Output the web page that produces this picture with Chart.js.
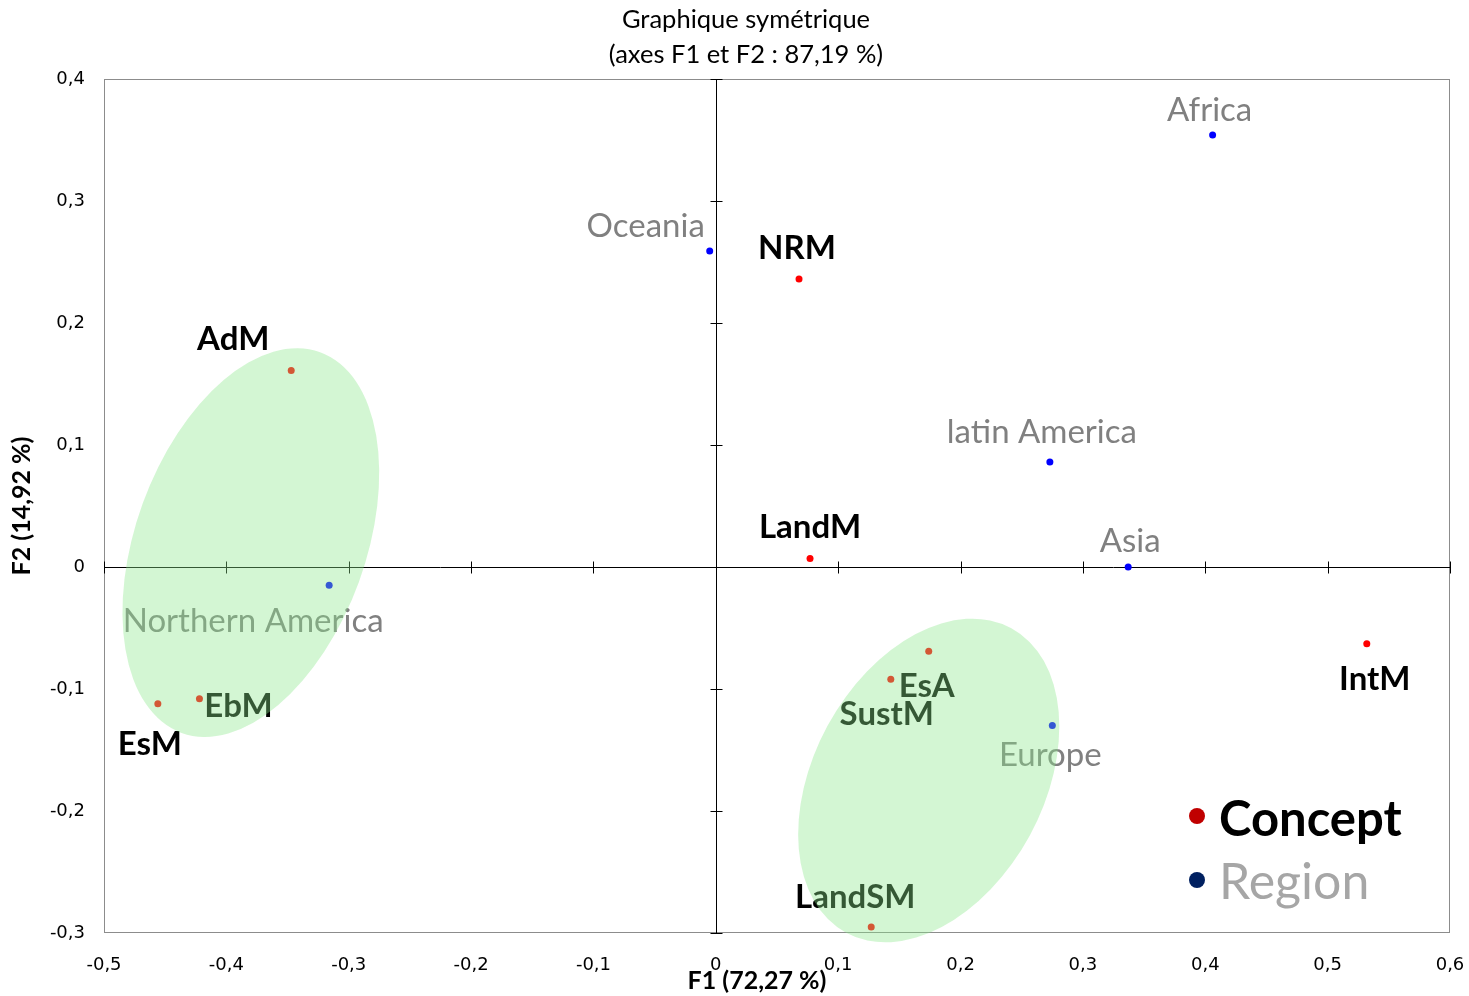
<!DOCTYPE html>
<html>
<head>
<meta charset="utf-8">
<script src="https://cdn.jsdelivr.net/npm/chart.js@4.4.1/dist/chart.umd.min.js"></script>
<style>
  html, body { margin: 0; padding: 0; background: #fff; }
  canvas { display: block; }
</style>
</head>
<body>
<canvas id="afc" width="1469" height="996"></canvas>
<script>
// coordonnées des modalités (F1, F2)
const conceptNames = ['NRM', 'AdM', 'LandM', 'IntM', 'EsA', 'SustM', 'EbM', 'EsM', 'LandSM'];
const conceptF1 = [0.068, -0.347, 0.077, 0.532, 0.174, 0.143, -0.422, -0.456, 0.127];
const conceptF2 = [0.236, 0.161, 0.007, -0.063, -0.069, -0.092, -0.108, -0.112, -0.295];

const regionNames = ['Africa', 'Oceania', 'latin America', 'Asia', 'Northern America', 'Europe'];
const regionF1 = [0.406, -0.005, 0.273, 0.337, -0.316, 0.275];
const regionF2 = [0.354, 0.259, 0.086, 0.000, -0.015, -0.130];

const xTicks = [-0.5, -0.4, -0.3, -0.2, -0.1, 0, 0.1, 0.2, 0.3, 0.4, 0.5, 0.6];
const yTicks = [-0.3, -0.2, -0.1, 0, 0.1, 0.2, 0.3, 0.4];

// decalage des etiquettes (px) par rapport au point
const conceptLabelShift = [[-2, -31], [-58, -31], [0, -31], [8, 35], [-2, 35], [-4, 35], [39, 8], [-8, 41], [-16, -30]];
const regionLabelShift = [[-3, -25], [-64, -25], [-8, -30], [2, -26], [-76, 36], [-2, 30]];

// groupes entoures (centre en unites des axes, rayons en unites, rotation en degres)
const groups = [
    { cx: -0.380, cy: 0.020, rx: 0.094, ry: 0.166, rot: 20 },
    { cx: 0.174, cy: -0.175, rx: 0.094, ry: 0.142, rot: 28.5 }
];

function fmt(v) {
    let r = Math.round(v * 10) / 10;
    if (r === 0) return '0';
    return r.toFixed(1).replace('.', ',');
}

const toPoints = (xs, ys) => xs.map((x, i) => ({ x: x, y: ys[i] }));

const frame_plugin = {
    id: 'frame',
    beforeDatasetsDraw(chart) {
        const ctx = chart.ctx;
        const a = chart.chartArea;
        const xs = chart.scales.x, ys = chart.scales.y;
        ctx.save();
        ctx.strokeStyle = '#8c8c8c';
        ctx.lineWidth = 1;
        ctx.strokeRect(a.left + 0.5, a.top + 0.5, a.right - a.left - 1, a.bottom - a.top - 1);

        let x0 = Math.round(xs.getPixelForValue(0)) + 0.5;
        let y0 = Math.round(ys.getPixelForValue(0)) + 0.5;
        ctx.strokeStyle = '#000';
        ctx.beginPath();
        ctx.moveTo(a.left, y0); ctx.lineTo(a.right, y0);
        ctx.moveTo(x0, a.top); ctx.lineTo(x0, a.bottom);
        xTicks.forEach(v => {
            let px = Math.round(xs.getPixelForValue(v)) + 0.5;
            ctx.moveTo(px, y0 - 6); ctx.lineTo(px, y0 + 6);
        });
        yTicks.forEach(v => {
            let py = Math.round(ys.getPixelForValue(v)) + 0.5;
            ctx.moveTo(x0 - 6, py); ctx.lineTo(x0 + 6, py);
        });
        ctx.stroke();
        ctx.restore();
    }
};

const overlay_plugin = {
    id: 'overlay',
    afterDatasetsDraw(chart) {
        const ctx = chart.ctx;
        const xs = chart.scales.x, ys = chart.scales.y;
        ctx.save();
        ctx.textAlign = 'center';
        ctx.textBaseline = 'middle';

        let conceptMeta = chart.getDatasetMeta(0);
        ctx.font = 'bold 33px Lato';
        ctx.fillStyle = '#000';
        conceptMeta.data.forEach((pt, i) => {
            ctx.fillText(conceptNames[i], pt.x + conceptLabelShift[i][0], pt.y + conceptLabelShift[i][1]);
        });

        let regionMeta = chart.getDatasetMeta(1);
        ctx.font = '33px Lato';
        ctx.fillStyle = '#808080';
        regionMeta.data.forEach((pt, i) => {
            ctx.fillText(regionNames[i], pt.x + regionLabelShift[i][0], pt.y + regionLabelShift[i][1]);
        });

        // ellipses vertes par dessus
        let unitX = Math.abs(xs.getPixelForValue(1) - xs.getPixelForValue(0));
        let unitY = Math.abs(ys.getPixelForValue(1) - ys.getPixelForValue(0));
        ctx.fillStyle = 'rgba(140, 232, 140, 0.38)';
        groups.forEach(g => {
            ctx.beginPath();
            ctx.ellipse(xs.getPixelForValue(g.cx), ys.getPixelForValue(g.cy),
                g.rx * unitX, g.ry * unitY, g.rot * Math.PI / 180, 0, Math.PI * 2);
            ctx.fill();
        });
        ctx.restore();
    },
    afterDraw(chart) {
        const ctx = chart.ctx;
        const a = chart.chartArea;
        ctx.save();
        ctx.fillStyle = '#000';
        ctx.textAlign = 'center';
        ctx.textBaseline = 'middle';
        ctx.font = '25.5px Lato';
        ctx.fillText('Graphique symétrique', 746, 20);
        ctx.fillText('(axes F1 et F2 : 87,19 %)', 746, 55);

        ctx.font = 'bold 25px Lato';
        ctx.fillText('F1 (72,27 %)', 757, 981);
        ctx.save();
        ctx.translate(22, (a.top + a.bottom) / 2);
        ctx.rotate(-Math.PI / 2);
        ctx.fillText('F2 (14,92 %)', 0, 0);
        ctx.restore();

        // legende
        ctx.textAlign = 'left';
        ctx.fillStyle = '#c00000';
        ctx.beginPath(); ctx.arc(1197, 816, 8, 0, Math.PI * 2); ctx.fill();
        ctx.font = 'bold 49px Lato';
        ctx.fillStyle = '#000';
        ctx.fillText('Concept', 1219, 820);
        ctx.fillStyle = '#002060';
        ctx.beginPath(); ctx.arc(1197, 880, 8, 0, Math.PI * 2); ctx.fill();
        ctx.font = '50px Lato';
        ctx.fillStyle = '#a6a6a6';
        ctx.fillText('Region', 1219, 883);
        ctx.restore();
    }
};

new Chart(document.getElementById('afc'), {
    type: 'scatter',
    data: {
        datasets: [{
            label: 'Concept',
            data: toPoints(conceptF1, conceptF2),
            backgroundColor: '#ff0000',
            borderColor: '#ff0000',
            pointRadius: 3.5,
            borderWidth: 0
        }, {
            label: 'Region',
            data: toPoints(regionF1, regionF2),
            backgroundColor: '#0000ff',
            borderColor: '#0000ff',
            pointRadius: 3.5,
            borderWidth: 0
        }]
    },
    options: {
        responsive: false,
        animation: false,
        events: [],
        layout: { padding: { top: 79, right: 19, left: 0, bottom: 0 } },
        plugins: {
            legend: { display: false },
            title: { display: false },
            tooltip: { enabled: false }
        },
        scales: {
            x: {
                type: 'linear',
                min: -0.5,
                max: 0.6,
                afterBuildTicks: (scale) => { scale.ticks = xTicks.map(v => ({ value: v })); },
                afterFit: (scale) => {
                    scale.height = 63;
                    scale.paddingLeft = 0;
                    scale.paddingRight = 0;
                },
                grid: { display: false, drawTicks: false },
                border: { display: false },
                ticks: {
                    padding: 22,
                    color: '#000',
                    font: { family: 'DejaVu Sans', size: 18 },
                    maxRotation: 0,
                    callback: (v) => fmt(v)
                }
            },
            y: {
                type: 'linear',
                min: -0.3,
                max: 0.4,
                afterBuildTicks: (scale) => { scale.ticks = yTicks.map(v => ({ value: v })); },
                afterFit: (scale) => {
                    scale.width = 104;
                    scale.paddingTop = 0;
                    scale.paddingBottom = 0;
                },
                grid: { display: false, drawTicks: false },
                border: { display: false },
                ticks: {
                    padding: 19,
                    color: '#000',
                    font: { family: 'DejaVu Sans', size: 18 },
                    callback: (v) => fmt(v)
                }
            }
        }
    },
    plugins: [frame_plugin, overlay_plugin]
});
</script>
</body>
</html>
